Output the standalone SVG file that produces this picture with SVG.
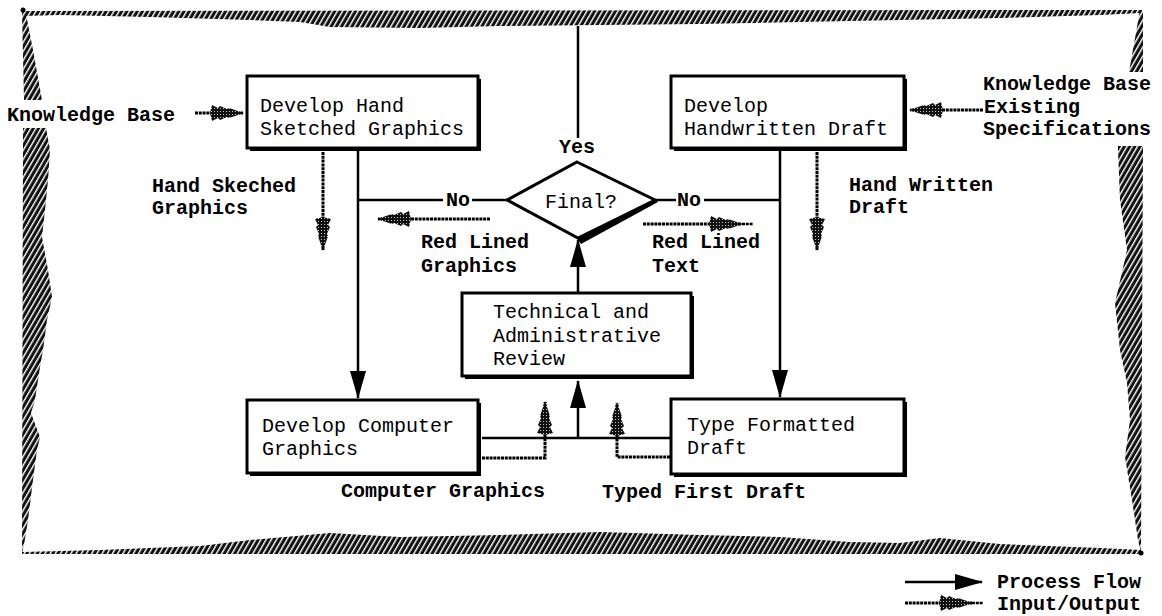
<svg xmlns="http://www.w3.org/2000/svg" width="1162" height="616" viewBox="0 0 1162 616">
<defs>
<style>
.bx{fill:#fff;stroke:#000;stroke-width:3}
.sh{fill:#000}
.t{font-family:"Liberation Mono","Courier New",monospace;font-size:20px;fill:#000}
.lbl{font-family:"Liberation Mono","Courier New",monospace;font-size:20px;font-weight:bold;fill:#000}
.flow{stroke:#000;stroke-width:2.5;fill:none;marker-end:url(#ah)}
.line{stroke:#000;stroke-width:2.5;fill:none}
.io{stroke:#000;stroke-width:3;stroke-dasharray:3 0.8;fill:none;marker-end:url(#ioh)}
.iot{stroke:#000;stroke-width:2.5;stroke-dasharray:3 0.8;fill:none}
.band{fill:url(#hatch)}
</style>
<pattern id="hatch" width="4.5" height="10" patternUnits="userSpaceOnUse" patternTransform="rotate(30)">
<rect width="4.5" height="10" fill="#111"/>
<rect x="0" width="1.4" height="10" fill="#fff"/>
</pattern>
<pattern id="stip" width="3" height="3" patternUnits="userSpaceOnUse">
<rect width="3" height="3" fill="#111"/>
<circle cx="1.5" cy="1.5" r="0.5" fill="#fff"/>
</pattern>
<marker id="ah" markerUnits="userSpaceOnUse" markerWidth="28" markerHeight="16" refX="27" refY="8" orient="auto" viewBox="0 0 28 16">
<path d="M0,0 L28,8 L0,16 Z" fill="#000"/>
</marker>
<marker id="ioh" markerUnits="userSpaceOnUse" markerWidth="34" markerHeight="18" refX="33" refY="9" orient="auto" viewBox="0 0 34 18">
<path d="M0,9 L2,1 L8,4 L10,2 L17,5 L19,4 L34,9 L19,14 L17,13 L10,16 L8,14 L2,17 Z" fill="url(#stip)"/>
</marker>
</defs>
<rect width="1162" height="616" fill="#fff"/>

<g id="frame">
<path class="band" d="M22,11 L1142,10 L1142,13 L1100,15 L1000,18 L900,20 L800,22 L700,24 L600,25 L500,26 L420,28 L330,27 L300,22 L250,20 L150,17 L60,15 L24,16 Z"/>
<path class="band" d="M22,12 L26,14 L33,50 L42,100 L24,100 Z"/>
<path class="band" d="M23,128 L46,128 L50,150 L48,180 L45,210 L42,237 L48,270 L52,297 L47,320 L43,350 L40,367 L35,400 L31,413 L40,437 L37,450 L33,480 L28,520 L24,545 L22,553 Z"/>
<path class="band" d="M1140,10 L1143,11 L1143,72 L1129,72 Z"/>
<path class="band" d="M1118,146 L1143,146 L1142,350 L1141,552 L1138,540 L1132,500 L1125,457 L1130,420 L1127,383 L1120,350 L1115,303 L1127,250 L1120,200 L1118,150 Z"/>
<path class="band" d="M22,554 L1141,554 L1141,550 L1100,548 L1000,544 L940,538 L900,543 L850,542 L780,537 L700,535 L600,532 L500,535 L400,537 L330,533 L250,540 L200,546 L100,550 L22,552 Z"/>
<circle cx="23" cy="10" r="2.5" fill="#000"/>
<circle cx="1141" cy="553" r="2.5" fill="#000"/>
</g>

<g id="connectors">
<path class="line" d="M578,26 V138"/>
<path class="flow" d="M358,151 V398"/>
<path class="line" d="M358,200 H443"/>
<path class="line" d="M472,200 H507"/>
<path class="line" d="M655,200 H676"/>
<path class="line" d="M704,200 H780"/>
<path class="flow" d="M780,151 V397"/>
<path class="flow" d="M578,292 V240"/>
<path class="line" d="M482,438 H670"/>
<path class="flow" d="M578,438 V381"/>
<path class="io" d="M195,113 H243"/>
<path class="io" d="M323,152 V250"/>
<path class="io" d="M490,219 H378"/>
<path class="io" d="M643,224 H742"/>
<path class="iot" d="M742,224 H753"/>
<path class="io" d="M817,152 V250"/>
<path class="io" d="M983,110 H910"/>
<path class="io" d="M482,458 H545 V402"/>
<path class="io" d="M670,457 H617 V403"/>
</g>

<g id="n1">
<rect class="sh" x="250" y="79" width="231" height="72"/>
<rect class="bx" x="247" y="76" width="231" height="72"/>
<text class="t" x="260" y="112">Develop Hand</text>
<text class="t" x="260" y="135">Sketched Graphics</text>
</g>
<g id="n2">
<rect class="sh" x="674" y="79" width="233" height="72"/>
<rect class="bx" x="671" y="76" width="233" height="72"/>
<text class="t" x="684" y="112">Develop</text>
<text class="t" x="684" y="135">Handwritten Draft</text>
</g>
<g id="n3">
<polygon points="655,199 576,237 581,244 658,202" fill="#000"/>
<polygon points="577,162 655,200 578,238 507,200" fill="#fff" stroke="#000" stroke-width="3" stroke-linejoin="miter"/>
<text class="t" x="581" y="208" text-anchor="middle">Final?</text>
</g>
<g id="n4">
<rect class="sh" x="465" y="296" width="229" height="83"/>
<rect class="bx" x="462" y="293" width="229" height="83"/>
<text class="t" x="493" y="318">Technical and</text>
<text class="t" x="493" y="342">Administrative</text>
<text class="t" x="493" y="365">Review</text>
</g>
<g id="n5">
<rect class="sh" x="250" y="403" width="231" height="73"/>
<rect class="bx" x="247" y="400" width="231" height="73"/>
<text class="t" x="262" y="432">Develop Computer</text>
<text class="t" x="262" y="455">Graphics</text>
</g>
<g id="n6">
<rect class="sh" x="674" y="402" width="233" height="75"/>
<rect class="bx" x="671" y="399" width="233" height="75"/>
<text class="t" x="687" y="431">Type Formatted</text>
<text class="t" x="687" y="454">Draft</text>
</g>

<g id="labels">
<text class="lbl" x="7" y="121">Knowledge Base</text>
<text class="lbl" x="152" y="192">Hand Skeched</text>
<text class="lbl" x="152" y="214">Graphics</text>
<text class="lbl" x="421" y="248">Red Lined</text>
<text class="lbl" x="421" y="272">Graphics</text>
<text class="lbl" x="559" y="153">Yes</text>
<text class="lbl" x="446" y="206">No</text>
<text class="lbl" x="677" y="206">No</text>
<text class="lbl" x="652" y="248">Red Lined</text>
<text class="lbl" x="652" y="272">Text</text>
<text class="lbl" x="849" y="191">Hand Written</text>
<text class="lbl" x="849" y="213">Draft</text>
<text class="lbl" x="983" y="90">Knowledge Base</text>
<text class="lbl" x="984" y="113">Existing</text>
<text class="lbl" x="983" y="135">Specifications</text>
<text class="lbl" x="341" y="497">Computer Graphics</text>
<text class="lbl" x="602" y="498">Typed First Draft</text>
</g>

<g id="legend">
<path class="flow" d="M905,582 H982"/>
<path class="io" d="M905,603 H972"/>
<path class="iot" d="M972,603 H983"/>
<text class="lbl" x="997" y="588">Process Flow</text>
<text class="lbl" x="997" y="610">Input/Output</text>
</g>
</svg>
